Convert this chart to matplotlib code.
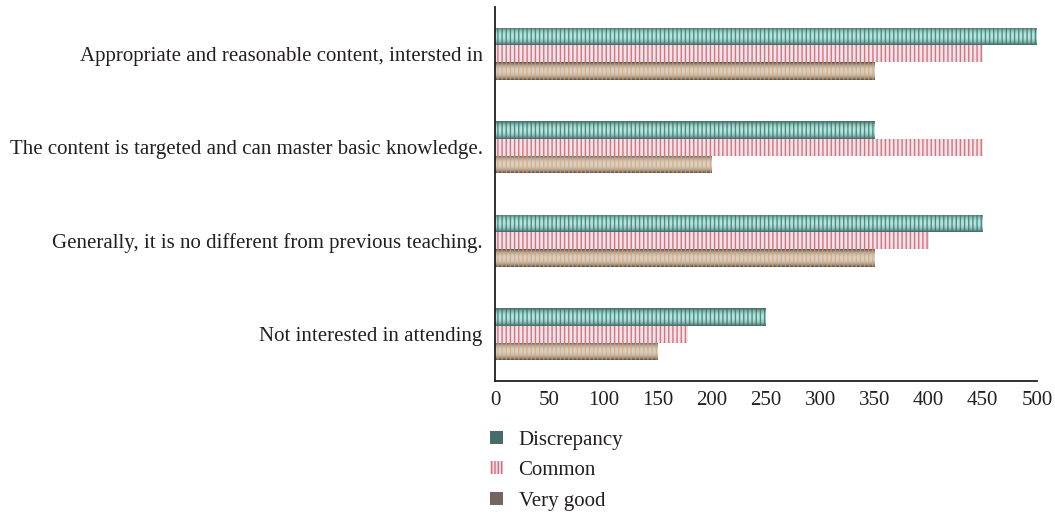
import numpy as np
import matplotlib
matplotlib.use("Agg")
import matplotlib.pyplot as plt
from matplotlib.patches import Patch

categories = [
    "Appropriate and reasonable content, intersted in",
    "The content is targeted and can master basic knowledge.",
    "Generally, it is no different from previous teaching.",
    "Not interested in attending",
]
series_names = ["Discrepancy", "Common", "Very good"]
discrepancy = [500, 350, 450, 250]
common = [450, 450, 400, 178]
very_good = [350, 200, 350, 150]
x_ticks = [0, 50, 100, 150, 200, 250, 300, 350, 400, 450, 500]

plt.rcParams["font.family"] = ["Liberation Serif", "DejaVu Serif"]
plt.rcParams["hatch.linewidth"] = 1.0

# base colour, edge shading colour, shading strength, stripe colour
styles = {
    "Discrepancy": dict(base=(0.74, 0.89, 0.87), edge=(0.20, 0.26, 0.26), shade=0.8,
                        stripe=(0.13, 0.50, 0.44, 0.8)),
    "Common": dict(base=(0.90, 0.91, 0.96), edge=(0.80, 0.85, 0.93), shade=0.3,
                   stripe=(0.93, 0.30, 0.27, 0.8)),
    "Very good": dict(base=(0.84, 0.82, 0.81), edge=(0.25, 0.23, 0.23), shade=0.85,
                      stripe=(0.95, 0.62, 0.22, 0.6)),
}
legend_colors = {
    "Discrepancy": (0.28, 0.42, 0.42),
    "Common": (0.85, 0.88, 0.95),
    "Very good": (0.45, 0.40, 0.38),
}
text_color = "#231f20"


def shading(st, nrows=40):
    base = np.array(st["base"])
    edge = np.array(st["edge"])
    t = np.linspace(-1, 1, nrows)
    w = (np.abs(t) ** 2.3 * st["shade"])[:, None, None]
    img = base[None, None, :] * (1 - w) + edge[None, None, :] * w
    return np.clip(img, 0, 1)


fig = plt.figure(figsize=(10.55, 5.17), dpi=100)
ax = fig.add_axes([0.4692, 0.263, 0.5137, 0.7234])

n = len(categories)
y = np.arange(n)
h = 0.185
offsets = [-h, 0, h]

for vals, name, off in zip([discrepancy, common, very_good], series_names, offsets):
    st = styles[name]
    bars = ax.barh(y + off, vals, height=h, color=st["base"], edgecolor="none", zorder=2)
    img = shading(st)
    for bar in bars:
        x0, y0 = bar.get_x(), bar.get_y()
        w_, h_ = bar.get_width(), bar.get_height()
        im = ax.imshow(img, extent=(x0, x0 + w_, y0 + h_, y0), aspect="auto",
                       interpolation="bilinear", zorder=3)
        im.set_clip_path(bar)
    # vertical stripe texture on top of the shading
    ax.barh(y + off, vals, height=h, facecolor="none", edgecolor=st["stripe"],
            hatch="||||", linewidth=0, zorder=4)

ax.set_xlim(0, 500)
ax.set_ylim(n - 0.5, -0.5)
ax.set_xticks(x_ticks)
ax.set_yticks(y)
ax.set_yticklabels(categories)
ax.tick_params(axis="both", length=0, labelsize=15, colors=text_color)
ax.tick_params(axis="x", pad=7)
ax.tick_params(axis="y", pad=9)
for s in ["top", "right"]:
    ax.spines[s].set_visible(False)
for s in ["left", "bottom"]:
    ax.spines[s].set_color(text_color)
    ax.spines[s].set_linewidth(1.3)
    ax.spines[s].set_zorder(5)

handles = []
for name in series_names:
    if name == "Common":
        p = Patch(facecolor=legend_colors[name], edgecolor=styles["Common"]["stripe"],
                  hatch="|||||", linewidth=0, label=name)
    else:
        p = Patch(facecolor=legend_colors[name], edgecolor="none", linewidth=0, label=name)
    handles.append(p)
leg = fig.legend(handles=handles, loc="upper left", bbox_to_anchor=(0.457, 0.183),
                 frameon=False, fontsize=15, handlelength=0.6, handleheight=0.6,
                 handletextpad=0.75, labelspacing=0.55, borderaxespad=0)
for t in leg.get_texts():
    t.set_color(text_color)

fig.savefig("out.png", dpi=100)
